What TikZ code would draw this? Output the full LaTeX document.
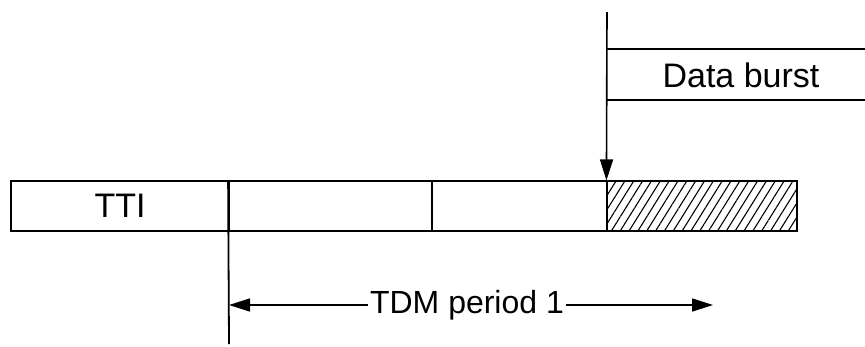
\documentclass[tikz,border=0pt]{standalone}
\usepackage{fontspec}
\setmainfont{Liberation Sans}
\usetikzlibrary{arrows.meta,patterns.meta}
\begin{document}
\begin{tikzpicture}
		[x=1pt,y=-1pt,
			lineDecorate/.style={line width=1.8pt},
			arrowDecorate/.style={line width=1.6pt,-{Triangle[length=21pt,width=13pt]}},
			cellDecorate/.style={shape=rectangle,draw,line width=1.8pt,inner sep=0pt,
					minimum height=50pt,font=\fontsize{34}{40}\selectfont}]
		\useasboundingbox (0,0) rectangle (865,346);
		% slots of the frame
		\foreach \nodename/\x/\w/\txt in {
				tti/120/218/TTI, slotb/330.5/203/, slotc/519.5/175/}
			{
				\node (\nodename) at (\x,206) [cellDecorate,minimum width=\w pt] {\txt};
			}
		\node (burst) at (702,206) [cellDecorate,minimum width=190pt,
			pattern={Lines[angle=58,distance=7.5pt,line width=1.1pt]}] {};
		% data burst marker
		\coordinate (arrTop) at (607,12);
		\coordinate (lineAw) at (607,49);
		\coordinate (lineAe) at (865,49);
		\coordinate (lineBw) at (607,100);
		\coordinate (lineBe) at (865,100);
		\node (dlabel) at (741,75) [font=\fontsize{34}{40}\selectfont] {Data burst};
		\draw[arrowDecorate] (arrTop) -- (burst.north west);
		\draw[lineDecorate] (lineAw) -- (lineAe);
		\draw[lineDecorate] (lineBw) -- (lineBe);
		% period
		\coordinate (lowEnd) at (229,344);
		\coordinate (tdmLeft) at (229,305);
		\coordinate (tdmRight) at (713,305);
		\node (tdm) at (467,305) [font=\fontsize{32}{38}\selectfont,inner sep=2pt] {TDM period 1};
		\draw[lineDecorate] (slotb.north west) -- (lowEnd);
		\draw[arrowDecorate] (tdm) -- (tdmLeft);
		\draw[arrowDecorate] (tdm) -- (tdmRight);
	\end{tikzpicture}
\end{document}
